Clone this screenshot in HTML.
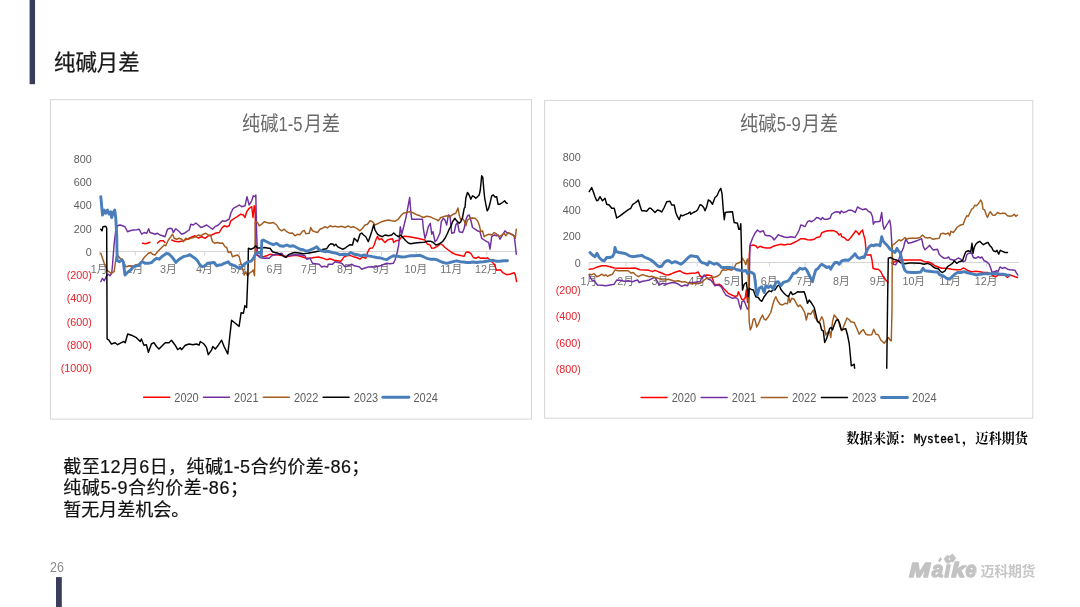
<!DOCTYPE html>
<html lang="zh-CN">
<head>
<meta charset="utf-8">
<title>纯碱月差</title>
<style>
html,body{margin:0;padding:0;background:#fff;}
body{width:1080px;height:607px;position:relative;overflow:hidden;font-family:"Liberation Sans",sans-serif;}
#slide{position:absolute;left:0;top:0;width:1080px;height:607px;overflow:hidden;background:#fff;filter:blur(0.5px);}
.abs{position:absolute;overflow:visible;}
.bar{position:absolute;background:#3a3d5a;}
.box{position:absolute;border:1px solid #dadada;box-sizing:border-box;background:#fff;}
svg text{font-family:"Liberation Sans","Noto Sans CJK SC",sans-serif;}
.pageno{position:absolute;left:50px;top:558.5px;font-size:14.2px;line-height:16px;color:#8c8c8c;transform:scaleX(0.88);transform-origin:0 0;}
</style>
</head>
<body>
<div id="slide">
<svg class="abs " style="left:0px;top:0px" width="1080" height="607" viewBox="0 0 1080 607"><rect x="29.6" y="-2" width="5.45" height="86.2" fill="#3a3d5a"/><rect x="56.0" y="577.1" width="5.8" height="32" fill="#3a3d5a"/></svg>
<header><svg class="abs " style="left:50px;top:45px" width="150" height="35" viewBox="50 45 150 35"><g fill="#1a1a1a" stroke="#1a1a1a" stroke-width="0.25"><text x="54" y="70.3" font-size="21.4" textLength="85.6" lengthAdjust="spacing">纯碱月差</text></g></svg></header>
<svg class="abs chartsvg" style="left:49px;top:98px" width="484" height="323" viewBox="49 98 484 323"><rect x="50.4" y="99.7" width="481.1" height="319.4" fill="#fff" stroke="#d6d6d6" stroke-width="1"/><g fill="#6a6a6a"><text x="242" y="131.2" font-size="20" textLength="36.4" lengthAdjust="spacingAndGlyphs">纯碱</text><text x="278.5" y="131.2" font-size="20" textLength="24.1" lengthAdjust="spacingAndGlyphs">1-5</text><text x="304" y="131.2" font-size="20" textLength="36" lengthAdjust="spacingAndGlyphs">月差</text></g><g font-size="11.7" text-anchor="end"><text transform="translate(91.8 162.6) scale(0.92 1)" fill="#606060">800</text><text transform="translate(91.8 185.9) scale(0.92 1)" fill="#606060">600</text><text transform="translate(91.8 209.2) scale(0.92 1)" fill="#606060">400</text><text transform="translate(91.8 232.5) scale(0.92 1)" fill="#606060">200</text><text transform="translate(91.8 255.8) scale(0.92 1)" fill="#606060">0</text><text transform="translate(91.8 279.1) scale(0.92 1)" fill="#e8222c">(200)</text><text transform="translate(91.8 302.4) scale(0.92 1)" fill="#e8222c">(400)</text><text transform="translate(91.8 325.7) scale(0.92 1)" fill="#e8222c">(600)</text><text transform="translate(91.8 349) scale(0.92 1)" fill="#e8222c">(800)</text><text transform="translate(91.8 372.3) scale(0.92 1)" fill="#e8222c">(1000)</text></g><g stroke="#d4d4d4" stroke-width="1"><line x1="99.5" y1="251.4" x2="518" y2="251.4"/><line x1="99.5" y1="251.4" x2="99.5" y2="255.4"/><line x1="135.3" y1="251.4" x2="135.3" y2="255.4"/><line x1="168.9" y1="251.4" x2="168.9" y2="255.4"/><line x1="204.7" y1="251.4" x2="204.7" y2="255.4"/><line x1="239.4" y1="251.4" x2="239.4" y2="255.4"/><line x1="275.2" y1="251.4" x2="275.2" y2="255.4"/><line x1="309.9" y1="251.4" x2="309.9" y2="255.4"/><line x1="345.7" y1="251.4" x2="345.7" y2="255.4"/><line x1="381.6" y1="251.4" x2="381.6" y2="255.4"/><line x1="416.2" y1="251.4" x2="416.2" y2="255.4"/><line x1="452.1" y1="251.4" x2="452.1" y2="255.4"/><line x1="486.8" y1="251.4" x2="486.8" y2="255.4"/></g><g fill="#727272" font-size="11.7"><text transform="translate(90.8 273) scale(0.92 1)">1月</text><text transform="translate(126.6 273) scale(0.92 1)">2月</text><text transform="translate(160.1 273) scale(0.92 1)">3月</text><text transform="translate(195.9 273) scale(0.92 1)">4月</text><text transform="translate(230.6 273) scale(0.92 1)">5月</text><text transform="translate(266.5 273) scale(0.92 1)">6月</text><text transform="translate(301.1 273) scale(0.92 1)">7月</text><text transform="translate(337 273) scale(0.92 1)">8月</text><text transform="translate(372.8 273) scale(0.92 1)">9月</text><text transform="translate(404.5 273) scale(0.92 1)">10月</text><text transform="translate(440.3 273) scale(0.92 1)">11月</text><text transform="translate(475 273) scale(0.92 1)">12月</text></g><g fill="none" stroke-linejoin="round" stroke-linecap="round"><polyline points="142.5,243.3 145.8,243.7 150,242.2" stroke="#ff0000" stroke-width="1.45" /><polyline points="157.5,243 160,240.8 163.3,240.8 165,242.5" stroke="#ff0000" stroke-width="1.45" /><polyline points="171.7,240 175,241.3 178.3,241.7 181.7,241.3 185,240 188.3,238.7 191.7,237 195,235.8 198.3,238 201.7,236.7 205,238.3 208.3,235.8 211.7,235 215,233.3 219.2,232.5 221.7,228.3 224.2,225.8 226.7,226.7 229.2,225.8 230.8,220.8 233.3,219.2 235.8,217.5 238.3,215.8 240.8,214.2 243.3,215 245,217.5 246.7,211.7 249.2,208.3 251.7,206.7 253,217.5 254.2,205.8 255,206.7 255.5,226.7 255.8,248.3 256.7,255 260,256.3 263.3,256.7 266.7,255.8 270,254.2 273.3,254.7 278.3,255 283.3,255.8 286.7,256.7 291.7,255.8 296.7,255.3 301.7,256.7 305.8,258 310,258.3 314.2,257.5 318.3,257 323.3,258.3 326.7,259.7 330,258.8 334.2,260.3 337.5,260.8 340.8,261.3 342.5,259.2 344.2,256.7 346.7,255.8 350,255.3 353.3,256.7 356.7,257.5 360,259.2 362.5,257 365.8,258.3 367.5,252.5 369.7,248.3 372.5,248 374.2,245 375.8,240 377.5,236.3 379.2,239.7 381.7,238.7 383.3,240.8 385,242.5 387.5,240 390,239.2 392.5,238.7 393.7,242.5 395.8,240.8 399.2,240.3 401.7,236.7 405,236.3 409.2,236.7 413.3,237.5 417.5,238.3 421.7,239.2 425,240 427.5,244.2 430,244.7 431.7,248.3 434.2,248 436.7,246.7 439.2,245 440,243.3 442.5,245 445,247.5 448.3,250 451.7,252.5 455,254.2 458.3,255 461.7,255.8 464.2,256.3 465.8,252.5 468.3,252 470.8,253.3 473.3,257.5 475.8,258.3 478.3,257 480.8,258.3 483.3,258 485.8,258.5 487.5,257.7 490.3,260.2 494.1,264 496.6,270.2 500.4,269.7 502.9,272.7 506.6,274.7 510.4,274 514.1,272.7 515.4,275.2 516.6,281.5" stroke="#ff0000" stroke-width="1.45" /><polyline points="100.8,281.7 102.5,278.3 104.2,280.8 106.7,275.8 108.3,274.2 110,275.8 111.7,273.3 112.5,265 114.2,243.3 115.8,230 117.5,225.8 120,225 122.5,225.8 125,226.7 127.5,231.7 130,230.8 133.3,230 136.7,229.7 139.2,229.2 141.7,234.2 144.2,232.5 146.7,233.3 148.7,228.7 150,232.5 152.5,233.3 155,234.2 157.5,233.3 160,235 162.5,235.8 165,236.7 167.5,229.2 170,228.3 172,228.7 173.3,232.5 175.8,228.7 178.3,230.8 181.7,234.2 184.2,233.3 186.7,231.7 189.2,230 190.8,224.2 193.3,225 195.8,223 198.3,225 200.8,227.5 203.3,226.7 206.7,225 210,227.5 212.5,229.2 215,226.7 218.3,225 220.8,222.5 222.5,220.8 225,221.3 227.5,220 229.2,219.2 230.8,213.3 233.3,208.3 236.7,206.7 239.2,205 241.7,206.7 245,205.8 247,196.7 248.3,201.7 249.2,205 251.7,200.8 253.3,195.8 255,196.7 255.8,195 256.3,218.3 256.7,235 257.5,255 260,257.5 263.3,258.3 266.7,258 269.2,258.3 271.7,255.8 273.3,255 277.5,254.2 281.7,253.3 284.2,256.7 286.7,256.3 291.7,255 296.7,254.7 301.7,255 305,255.8 306.7,259.2 310,258.3 312.5,263.3 315.8,263.7 319.2,264.2 321.7,267 324.2,266.3 327.5,267 328.3,264.2 332.5,264.2 335,261.7 338.3,262.5 341.7,263.3 345,266.7 348.3,265.8 351.7,264.2 354.2,265.8 356.7,266.3 359.2,266.7 361.7,269.2 365,268 368.3,267 371.7,266.7 375,267 378.3,266.3 380.8,265.8 384.2,264.2 386.7,263.3 390,263.7 393.3,263.3 395,260 397,253.3 398.7,245 400.3,226.7 401.7,234.2 403.3,228.3 405.8,218.3 408,206.7 409.7,197.5 410.8,211.7 411.7,219.2 415,219.2 422.5,219.2 423.3,228.3 425,238.3 426.7,233.3 428.3,226.7 430.3,223.3 431.7,234.2 433,231.7 435,241.7 436.7,240 438.3,236.7 440,233 441.3,221.7 443.3,218.3 445,220 446.7,225 448.3,215 450,215.8 451.7,233.3 454.2,232.5 455.8,225 457.5,222.5 459.2,231.7 462.5,232.5 464.2,228.3 465.8,220 467.5,215.8 469.2,215 470.8,220 472.5,227.5 475,229.2 477.5,230.8 480,231.7 481.7,238.3 484.2,240 486.7,241.7 488.7,242.5 490,249.2 491.7,236.7 494.2,235 496.7,235.8 498.3,235 500,239.2 502.5,235 505,230.8 506.7,232.5 509.2,233.3 511.7,234.2 514.2,235.8 515.3,245 516.3,254.2" stroke="#7030a0" stroke-width="1.45" /><polyline points="100.8,253.3 102.5,258.3 104.2,263.3 105.8,266.7 107.5,270.8 109.2,271.7 110.8,273.3 112.5,272.5 114.2,271.7 115,265 116.3,256.7 118.3,255.8 120,258.3 122.5,259.2 124.2,263.3 125.8,266.7 128.3,266.3 130.8,265.8 133.3,266.3 135.8,265 138.3,264.2 140.8,263.3 142.5,260 144.2,257.5 146.7,255 148.3,253.3 150.8,252.5 152.5,254.2 155,255 157.5,251.7 160,249.2 162.5,246.7 164.2,245 165.8,245.8 168.3,240 170.8,236.7 172.5,234.2 174.2,238.3 176.7,239.2 179.2,238.3 181.7,239.2 183.3,241.7 185.8,238.3 188.3,239.2 190.8,238.3 193.3,237.5 195.8,236.7 198.3,235 200.8,235.8 203.3,234.2 205.8,233.3 208.3,235 210.8,235.8 212.5,241.7 215,243.3 217.5,242.5 220,243.3 222.5,243 225,246.7 226.7,247.5 228.3,252.5 230.8,251.7 232.5,256.7 235,255.8 237.5,255 239.2,256.7 240.8,263.3 242.5,268.3 244.2,275 245.8,271.7 247.5,275.8 249.2,273.3 251.7,271.7 253.3,270 254.5,275.8 255,251.7 255.3,221.7 257.5,222.5 259.2,225.8 261.7,224.2 264.2,221.7 266.7,222.5 270,223.3 273.3,222.5 276.7,225 279.2,229.2 281.7,230.8 284.2,229.2 286.7,231.7 290,233.3 292.5,233 295,235.8 297.5,234.2 300,234.7 302.5,231.3 304.2,230.3 305.8,233.7 309.2,233.3 310.8,227.5 312.5,230.8 315,231.7 317.5,232.5 320,229.2 322.5,228.3 325,226.7 327.5,228 330,225.8 332.5,226.7 335,226.3 338.3,227 341.7,226.3 345,227.5 348.3,225.8 350.8,227.5 353.3,226.7 356.7,228.3 360,230.8 362.5,228.3 365,225 367.5,224.2 370,220.8 372.5,221.7 375,225 378.3,223.3 381.7,221.7 385,220.8 388.3,220 391.7,220.8 395,221.3 398.3,219.2 400.8,215.8 403.3,213.3 406.7,212.5 410,211.7 413.3,213 416.7,214.7 420,215.8 423.3,217.5 426.7,216.3 430,216.7 433.3,218.3 436.7,219.7 438.3,220.8 440.8,217.5 443.3,216.7 446.7,215.8 450,216.7 453.3,214.2 455.8,213.3 458,208 459.2,215 460.8,220 462.5,218.3 464.2,220.8 465.8,225.8 467.5,220 470,218.3 472.5,218 475,218.3 477.5,220.8 479.2,225 480.8,231.7 482.5,230.8 484.2,236.7 486.7,235 489.2,234.2 491.7,235 494.2,232.5 496.7,234.2 499.2,236.7 501.7,235 504.2,233.3 505.8,235.8 508.3,232.5 510.8,234.2 513.3,235 515.3,238.3 516.3,229.2" stroke="#a25c1f" stroke-width="1.45" /><polyline points="100.8,229.2 102,230.8 103,226.7 105.8,226.3 106.7,228.3 107.1,339 108.9,340.2 111.4,344 115.1,342.7 117.6,344.7 121.4,342.7 123.9,341.5 125.2,342.7 127.7,334 131.4,335.2 136.4,337.7 140.2,341.5 141.4,339 143.9,345.2 146.4,344.7 148.4,352.2 151.4,344 153.9,342.7 156.5,346.5 159,349 162.7,345.2 165.2,342.7 169,342.7 171.5,340.2 175.2,345.2 177.7,349.7 180.2,347.7 181.5,349.7 185.3,345.2 189,344 192.8,344.7 196.5,344 199,345.2 200.3,341.5 204,344 206.5,347.7 208.3,354.7 211.5,350.2 212.8,346.5 215.3,349 218.3,345.2 221.6,340.2 224.1,346.5 227.8,354 229.1,342.7 231.6,320.2 235.3,323.2 239.1,326.4 241.1,312.7 243.4,313.2 244.9,305.6 246.6,307.6 247.9,275 248.4,248.3 250.8,249.2 253.3,248.3 255.8,245.8 257.5,248 261.7,248 265,247.5 268.3,248.3 270,248.3 272.5,251.7 275,252.5 278.3,253.3 281.7,255 285.8,257.5 288.3,254.7 291.7,253.3 295,252.5 299.2,253 303.3,253.7 307.5,253.3 311.7,252.5 315.8,251.7 320,250.8 323.3,249.2 326.7,248.7 329.2,245 330.8,243.7 333.3,244.2 334.2,245.8 335.8,244.2 337.5,246.7 340,248 342.5,249.2 345,248.3 347.5,246.3 350,244.7 352.5,245 354.2,238.3 355.8,239.7 357.5,241.7 360,234.2 361.7,233 363.3,234.7 365.8,236.7 368.3,241.7 370,236.7 371.7,231.7 373.7,224.7 375,230 377.5,234.2 380,235.8 382.5,236.7 385,235 388.3,235.8 391.7,235 393.7,233 395.8,235 398.3,236.7 400.8,235 403.3,238 405.8,240.8 408.3,243 410.8,243.7 415,243 420,242.5 424.2,242.2 427.5,241.3 430.8,241.3 433.3,242.5 435.8,245 438.3,244.2 440,243.3 442.5,241.7 445,238.3 447.5,233.3 449.2,229.2 450.8,226.7 452.5,221.7 455,218.3 456.7,220.8 459.2,223.3 460.8,221.7 462.5,217.5 464.2,208.3 465,207.5 465.8,198.3 467.5,192.5 469.2,195 470.8,199.2 472.5,195.8 474.2,196.7 475.8,198.3 477.5,196.7 479.2,195 480.3,190 481.7,175.8 482.8,177.5 483.7,188.3 484.7,198.3 485.8,204.2 487.2,210.8 488.7,208.3 490,203.3 491.7,195.8 493.3,195 495,197 496.7,196.7 498,204.2 500,204.2 502.5,202.5 504.7,200.8 505.8,202.5 507.2,203.3" stroke="#000000" stroke-width="1.45" /><polyline points="100.8,196.7 102.5,215 104.2,210 105.8,213.3 107.5,210 109.2,214.2 110.8,211.7 111.7,217.5 113.3,212.5 114.7,210 115.8,218.3 116.7,235 117.2,260.8 119.2,261.7 121.7,260 123.3,261.7 125,275 126.7,273.3 128.3,271.7 130.8,270 133.3,266.7 136.7,265.8 139.2,265 140.8,262.5 142.5,261.7 145,263.3 148.3,263.3 151.7,262.5 154.2,260 156.7,258.3 159.2,259.2 161.7,256.7 164.2,255 166.7,253.3 169.2,254.2 171.7,256.7 174.2,260 175.8,262.5 178.3,260 180.8,258.3 183.3,256.7 186.7,255.8 190,254.7 192.5,256.7 195,258.3 197.5,260.8 200,265 202.5,266.7 205,265.8 207.5,263.3 210,263 214.2,262.5 216.7,265.8 219.2,265 221.7,264.7 224.2,263.3 226.7,262.5 228.3,261.7 230,264.2 232.5,265 235,265.8 237.5,267.5 240,268.3 241.7,266.7 244.2,264.2 246.7,262.5 249.2,261.7 251.7,260.8 254.2,256.7 255.8,253.3 258.3,252.5 260.8,252.5 261.3,257 261.8,240.8 263.3,240 266.7,241.7 270,243.3 273.3,244.7 276.7,243.3 280,245.8 283.3,246.3 286.7,245 290,246.3 293.3,245.8 296.7,247.5 300,249.2 303.3,249.7 306.7,251.3 310,250 313.3,248.7 316.7,246.7 319.2,249.7 321.7,250.8 325,251.7 328.3,251.3 332.5,252.5 336.7,253.3 340,254.7 344.2,254.2 347.5,254.7 350.8,252.5 354.2,254.2 357.5,254.7 360.8,255.8 364.2,255 368.3,255.8 372.5,256.7 376.7,257.5 380.8,258 384.2,259.2 386.7,259.7 390,257.5 393.3,255.8 397.5,256.3 401.7,257 405.8,256.7 410,255.8 415,255.8 420,255.3 423.3,256.7 426.7,258.3 430,259.2 434.2,259.2 437.5,260 440.8,261.7 443.3,262.5 446.7,263.3 450,262.5 453.3,261.7 456.7,260.8 460,261.7 463.3,262 466.7,262.5 470,262.5 473.3,262 476.7,262.5 480,262 483.3,261.7 486.7,261.3 490,260.8 493.3,260.3 496.7,261.3 500,261.3 503.3,260.8 507.5,260.8" stroke="#4a7ebb" stroke-width="2.9" /></g><g fill="#606060" font-size="12"><line x1="143.7" y1="397.3" x2="169.7" y2="397.3" stroke="#ff0000" stroke-width="1.45" stroke-linecap="round"/><text transform="translate(174.3 401.7) scale(0.915 1)">2020</text><line x1="203.5" y1="397.3" x2="229.5" y2="397.3" stroke="#7030a0" stroke-width="1.45" stroke-linecap="round"/><text transform="translate(234.1 401.7) scale(0.915 1)">2021</text><line x1="263.3" y1="397.3" x2="289.3" y2="397.3" stroke="#a25c1f" stroke-width="1.45" stroke-linecap="round"/><text transform="translate(293.9 401.7) scale(0.915 1)">2022</text><line x1="323.1" y1="397.3" x2="349.1" y2="397.3" stroke="#000000" stroke-width="1.45" stroke-linecap="round"/><text transform="translate(353.7 401.7) scale(0.915 1)">2023</text><line x1="382.9" y1="397.3" x2="408.9" y2="397.3" stroke="#4a7ebb" stroke-width="2.9" stroke-linecap="round"/><text transform="translate(413.5 401.7) scale(0.915 1)">2024</text></g></svg>
<svg class="abs chartsvg" style="left:543px;top:98px" width="492" height="323" viewBox="543 98 492 323"><rect x="544.6" y="100.4" width="488.2" height="317.8" fill="#fff" stroke="#d6d6d6" stroke-width="1"/><g fill="#6a6a6a"><text x="740.1" y="131.2" font-size="20" textLength="36.4" lengthAdjust="spacingAndGlyphs">纯碱</text><text x="776.7" y="131.2" font-size="20" textLength="24.1" lengthAdjust="spacingAndGlyphs">5-9</text><text x="802.1" y="131.2" font-size="20" textLength="36" lengthAdjust="spacingAndGlyphs">月差</text></g><g font-size="11.7" text-anchor="end"><text transform="translate(580.8 160.6) scale(0.92 1)" fill="#606060">800</text><text transform="translate(580.8 187.2) scale(0.92 1)" fill="#606060">600</text><text transform="translate(580.8 213.8) scale(0.92 1)" fill="#606060">400</text><text transform="translate(580.8 240.4) scale(0.92 1)" fill="#606060">200</text><text transform="translate(580.8 267) scale(0.92 1)" fill="#606060">0</text><text transform="translate(580.8 293.6) scale(0.92 1)" fill="#e8222c">(200)</text><text transform="translate(580.8 320.2) scale(0.92 1)" fill="#e8222c">(400)</text><text transform="translate(580.8 346.8) scale(0.92 1)" fill="#e8222c">(600)</text><text transform="translate(580.8 373.4) scale(0.92 1)" fill="#e8222c">(800)</text></g><g stroke="#d4d4d4" stroke-width="1"><line x1="589.2" y1="262.5" x2="1019" y2="262.5"/><line x1="589.2" y1="262.5" x2="589.2" y2="266.5"/><line x1="626" y1="262.5" x2="626" y2="266.5"/><line x1="660.4" y1="262.5" x2="660.4" y2="266.5"/><line x1="697.1" y1="262.5" x2="697.1" y2="266.5"/><line x1="732.7" y1="262.5" x2="732.7" y2="266.5"/><line x1="769.5" y1="262.5" x2="769.5" y2="266.5"/><line x1="805.1" y1="262.5" x2="805.1" y2="266.5"/><line x1="841.8" y1="262.5" x2="841.8" y2="266.5"/><line x1="878.6" y1="262.5" x2="878.6" y2="266.5"/><line x1="914.2" y1="262.5" x2="914.2" y2="266.5"/><line x1="950.9" y1="262.5" x2="950.9" y2="266.5"/><line x1="986.5" y1="262.5" x2="986.5" y2="266.5"/></g><g fill="#727272" font-size="11.7"><text transform="translate(580.5 285) scale(0.92 1)">1月</text><text transform="translate(617.2 285) scale(0.92 1)">2月</text><text transform="translate(651.6 285) scale(0.92 1)">3月</text><text transform="translate(688.4 285) scale(0.92 1)">4月</text><text transform="translate(724 285) scale(0.92 1)">5月</text><text transform="translate(760.7 285) scale(0.92 1)">6月</text><text transform="translate(796.3 285) scale(0.92 1)">7月</text><text transform="translate(833.1 285) scale(0.92 1)">8月</text><text transform="translate(869.8 285) scale(0.92 1)">9月</text><text transform="translate(902.4 285) scale(0.92 1)">10月</text><text transform="translate(939.2 285) scale(0.92 1)">11月</text><text transform="translate(974.8 285) scale(0.92 1)">12月</text></g><clipPath id="c2clip"><rect x="585" y="140" width="445" height="228.8"/></clipPath><g fill="none" stroke-linejoin="round" stroke-linecap="round" clip-path="url(#c2clip)"><polyline points="589.2,269.2 593.3,268.7 597.5,267 601.7,265.8 605.8,265.8 610,266.7 614.2,268 618.3,268.3 625,268.3 630,268.3 635,268 640,269.7 645,270 649.2,270.3 652.5,271.7 655,270.3 658.3,271.7 661.7,273 665,274.7 668.3,275 671.7,273.7 675.8,272 680,270.8 683.3,273 686.7,273.7 691.7,273.3 695.8,273 698.3,272 700,275.8 701.7,277.5 704.2,275.8 706.7,275 709.2,275.3 711.7,275.8 713,280 714.2,284.2 716.7,284.7 719.2,284.2 721.7,285.8 723.3,288.3 725.8,290.8 728.3,293.3 731.7,295 735,296.3 737.5,295.8 738.3,291.7 740,295 741.7,299.2 743.3,300 745.3,297.5 746.3,290 747.5,302.5 748.7,288.3 749.3,255 750,245.8 753.3,245 755.8,245.8 757.5,248 760,246.3 763.3,247.5 766.7,248 770,248 773.3,246.3 776.7,245.3 780.8,244.2 784.2,245 787.5,244.2 790.8,244.2 794.2,242.5 797.5,240.8 800.8,238.7 804.2,238.7 807.5,239.7 810.8,240 814.2,239.2 816.7,237.5 820,236.7 821.7,233 824.2,231.7 827.5,230.8 830.8,230.5 834.2,230.8 836.7,232 839.2,235 840.8,233.7 841.7,236.7 844.2,237.5 846.7,240 848.3,240.3 850.8,237.5 853.3,234.2 855.8,230.8 857.5,232.5 859.2,234.7 860.8,231.7 862.5,230 863.7,235 865,239.2 865.8,248.3 866.7,255 869.2,255 870.8,254.7 872,260 873,268.3 875.8,269.2 878.3,269.2 880.8,271.7 883.3,276.7 885.8,280 888,282.5" stroke="#ff0000" stroke-width="1.45" /><polyline points="891.7,263.3 895,261.7 898.3,260.8 901.7,260 905,260 910,260 916.7,260 920.8,260 924.2,261.7 928.3,262 931.7,263.3 935,265.8 938.3,267 941.7,268.3 946.7,268.3 951.7,269.2 956.7,269.7 960.8,269.7 963.3,268 965,268.7 968.3,270.8 971.7,271.7 975.8,271.3 980,271.7 983.3,272.5 987.5,272.5 990.8,274.2 993.3,275.8 995.8,276.7 998.3,275 1001.7,274.7 1005,275.3 1007.5,277.5 1010,275 1012.5,275.8 1015,276.7 1017.5,277.5" stroke="#ff0000" stroke-width="1.45" /><polyline points="589.2,275 591.7,280 594.2,280.8 597.5,285 601.7,285.3 605.8,285.8 610,285 614.2,284.2 616.7,280 620,280.3 624.2,281.3 628.3,280.8 632.5,281.7 635,280.8 637.5,280 639.2,282.5 642.5,281.3 645.8,280.8 649.2,280 652.5,278.3 655,277.5 657.5,281.7 659.2,285 662.5,283.3 665.8,284.2 669.2,283.3 672.5,282.5 675.8,283 678.3,284.2 681.7,286.3 685,285 687.5,285.8 689.2,282.5 693.3,282.5 697.5,282 700,281.7 701.7,278.3 704.2,275 705.8,276.7 708.3,279.2 710.8,280 713.3,283.3 715,285.8 717.5,285 720,285.8 721.7,287.5 723.3,290.8 725.8,295 729.2,296.7 732.5,298.3 735.8,297.5 738,299.2 739.2,304.2 740.8,309.2 742,301.7 744.2,300.8 745.8,305 747.5,309.2 748.7,307.5 749.3,288.3 749.7,258.3 750,245 752.5,238.3 755,233.3 757.5,230 760,232 763.3,230.8 765,235 767.5,235.8 770,235.8 772.5,237.5 774.2,240 776.7,236.7 778.3,234.7 780.8,235.8 784.2,237 787.5,237.5 790.8,236.7 795,237.5 797.5,233.3 799.2,230 800.8,225 803.3,225.8 805,226.7 807.5,221.7 809.2,220.8 811.7,221.7 814.2,220 816.7,217.5 819.2,218.3 820.8,219.7 822.5,217.5 824.2,219.2 827.5,219.2 830,218.3 831.7,214.2 834.2,212.5 836.7,211.7 839.2,212 840,213.7 841.3,210.8 843.3,212.5 845.8,212 848.3,210.3 851.7,210.3 854.2,211.7 855.3,212.5 857.5,207 860,208.3 862.5,209.7 865.8,208.7 868.3,211.3 870.8,212.5 872.5,216.7 873.3,224.2 875,221.7 877.5,221.7 880,221.3 881.7,212.5 883,225 884.2,229.2 886.7,225 889.7,220 890.8,226.7 891.7,241.7 892.5,258.3 893.3,264.2 895.8,264.7 897.5,261.7 899.2,258.3 901.7,251.7 903.3,248.3 904.6,243 905.8,239.2 908.3,243.3 911.7,242.5 916.7,240.8 921.7,238.7 923.3,246.7 925,249.7 927.5,247.5 929.7,245.3 931.7,248.3 933.3,250 937.5,249.2 939.2,254.2 941.7,256.7 944.2,258.3 946.7,258 948.7,257 950,259.2 953.3,260 955.8,259.7 958.3,258 960.8,259.2 963.3,261.7 965.3,260.8 966.7,255 968.3,253.3 971.7,253 973.3,257.5 975.8,258.3 978.3,256.7 980,258 982,257 984.2,260.8 986.7,261.7 989.2,264.2 990.8,268.3 992,272.5 994.2,271.7 996.7,270.8 998.3,271.3 1000,267 1002.5,268.3 1005,267.5 1007.5,269.2 1010,269.7 1012.5,270 1015,270.3 1016.7,273.3 1017.8,275" stroke="#7030a0" stroke-width="1.45" /><polyline points="589.2,274.2 591.7,274.7 594.2,273.7 596.7,276.7 599.2,275.8 601.7,274.2 604.2,275.8 605.8,274.7 607.5,276.3 610,275 612.5,274.2 615,270 618.3,270.8 623.3,270.8 628.3,270.8 630.8,273 633.3,272.5 635.8,275 638.3,276.7 640.8,275.3 643.3,274.7 645.8,275.8 649.2,276.7 651.7,276.3 655,277.5 658.3,278.3 661.7,279.7 665,280 668.3,279.2 671.7,280.3 675,281.3 678.3,280.8 681.7,282 685,281.7 688.3,283.3 691.7,283.7 695,283.3 698.3,283.7 701.7,282.5 704.2,280 706.7,278.3 709.2,278 711.7,277.5 715,277 717.5,276.3 720,274.2 721.7,270.8 723.3,269.7 725.8,270.3 728.3,269.2 731.7,270.3 734.2,268.3 735.8,264.2 738.3,263 740.8,262 742.5,258.3 744.2,260.8 745.8,264.7 747,260 748,258.7 748.7,305 749.2,321.7 750.3,330 751.7,326.7 753.3,319.2 754.7,318.7 756.7,327 758.3,324.2 760.3,319.2 762.5,315 764.2,319.2 765.8,320 768.3,316.7 770.8,312.5 772.5,305.8 774.2,300 775.8,296.7 777.5,300.8 780,304.2 782.5,305 785,303.3 787.5,303.7 788.7,296.3 790,302.5 791.7,298.3 794.2,299.2 796.7,304.2 798.3,306.7 800,305 802.5,308.3 804.7,312.5 806.3,320 808,313.3 810.8,314.2 813.3,310 815,317.5 817.5,320.8 819.2,322.5 821.7,316.7 823.3,320 824.7,329.2 825.8,335 827.5,332.5 829.7,331.7 830.8,337.5 832.5,321.7 834.2,315 836.3,317.5 838.3,320 840,326.7 842,330.8 844.2,325 847,318 849.2,319.7 850.8,321.7 854.2,322.5 856.7,328.3 859.2,334.2 861.7,330.8 863.3,329.7 865.8,334.2 868.3,335 871.7,334.7 873.7,329.2 875.8,334.2 878.3,334.7 880.8,340 884.2,343.3 886.7,340 888.3,337.5 890,340 891.3,340.8 892,308.3 892.3,245 894.2,244.2 896.7,241.7 899.2,239.7 900.8,240.8 902.5,239.7 905,237.5 906.7,239.2 909.2,238.3 913.3,238.3 916.7,238.3 920,237.5 922.5,235 925,237.5 927.5,238 930,237.5 932.5,239.2 935.8,238.7 939.2,238.3 940.8,233.7 943.3,233.3 945.8,234.2 948.3,233 949.7,235.8 950.8,231.3 953.3,232.5 955.8,229.2 957.5,227 960,225.3 963.3,224.2 965,219.2 966.7,215.8 968.3,216.3 970,212.5 971.7,209.2 973.3,208 974.7,205.3 976.3,205.8 978,204.2 979.7,201.7 980.8,200 982,202.5 983,209.2 984.7,210 986.3,215 987.5,217.5 989.2,213.3 990.3,211.7 992.5,215 995,215.3 997.5,212.5 1000,213.7 1002.5,213.3 1005,213.3 1007.5,215.8 1010,216.3 1012.5,215.8 1014.2,214.2 1015.8,216.3 1017.5,215" stroke="#a25c1f" stroke-width="1.45" /><polyline points="589.2,191.7 591.7,187.5 593.3,191.7 595,196.7 596.7,200.8 598.3,200 600,196.7 602.5,200.8 605,198.3 606.7,204.2 609.2,205 611.7,208.3 614.2,208.3 616.7,218 620,215.8 623.3,213.3 626.7,210.8 629.2,209.2 630.8,208.3 632.5,204.7 635,203 636.7,201.7 638.3,200 640,205.8 641.7,210.8 644.2,210.8 646.7,211.3 649.2,208.3 650.8,208.3 653.3,210.8 655,212.5 657.5,210 660,210.8 661.7,212 664.2,207.5 666.7,201.7 670,201.3 671.7,205 674.2,205 675.8,212.5 677.5,216.7 679.2,219.7 680.8,215 682.5,215.8 685,214.7 688.3,213.3 690,212 690.8,214.2 693.3,212.5 695.8,211.3 697.5,210 700,204.7 701.7,205.3 703.7,207.5 705,210.8 706.7,206.7 708.3,200 710,200.8 712.5,204.2 715,197.5 717,195.8 719.2,190.8 720.8,188.3 722,193.3 723.3,210 724.3,219.7 725.3,212.5 728.3,212 732.5,211.7 733.3,217.5 734.2,222.5 737.5,223.3 738.7,229.2 740,229.2 740.8,223.7 741.3,241.7 742,276 742.5,290 744.2,284.2 746.3,282.5 747.5,290.8 748.3,296.7 749.2,288.3 750.8,289.2 753.3,290 755.8,296.7 758.3,297.5 760,300 761.7,301.3 764.2,296.7 766.7,293.3 769.2,290.8 771.3,291.7 773.3,289.2 775,290 777.5,285.8 779.2,285 780.8,289.2 783.3,292.5 785.8,295 788.3,296.7 790.8,291.7 792.5,294.7 795,293.7 797.5,291.7 800.8,292 804.2,291.7 805.8,296.7 807.5,303.3 809.2,300 811.7,303.3 814.2,307.5 815.8,314.2 817.5,321.7 820,323.3 821.7,330 823.3,330.8 824.7,342.5 826.3,339.2 828,334.2 829.7,328.3 831.3,327.5 832.5,330 834.2,325 836.3,320.3 838,319.7 839.7,323.3 841.3,330 843.3,329.2 845.8,328.7 847.5,335 849.2,343.3 850.3,355 851.3,365.8 853,365 854.2,364.2 855,372 886.7,372 887.6,300 888.3,258.3 890.8,257.5 893.3,259.2 896.7,260 899.2,261.7 901.7,263.3 905,263.7 909.2,263 913.3,263 918.3,263.3 920,263.3 924.2,264.2 927.5,263.3 930.8,264.7 933.3,267 935.8,268.3 938.3,268.7 940.8,271.7 942.5,272.5 945,270.8 947.5,266.7 950,265 952.5,263.3 954.2,260.8 956.7,263.3 959.2,261.7 962.5,260.8 964.2,255.8 965.8,251.7 968.3,250.8 970.8,251.7 972,243.3 973,253.3 974.2,247.5 975.8,244.2 977.5,242.5 979.7,241.3 981.7,243.3 983.3,244.7 985.8,243.3 988,242.5 990,245.8 991.7,247.5 993.3,250.8 995.8,251.7 997,250.3 998.7,254.2 1000.3,250.3 1002.5,251.3 1005,252.5 1007.5,252.5" stroke="#000000" stroke-width="1.45" /><polyline points="590,252.5 592.5,255 595,256.7 597,253.3 599.2,257.5 601.7,260 604.2,260.8 606.7,257.5 610,257.5 612.5,256.7 614.2,253.3 615,247.5 616.3,251.7 619.2,252.5 622.5,253 625.8,253.7 629.2,255.8 632.5,256.7 635.8,256.3 639.2,255.8 641.7,255.3 644.2,257 647.5,258.3 650.8,260 654.2,262.5 656.7,265 659.2,266.7 661.7,266.3 664.2,262.5 666.7,260.8 669.2,260.8 671.7,263 675,261.7 677.5,262.5 680.8,264.2 683.3,262.5 685.8,260 688.3,257.5 690.8,255.8 694.2,256.3 697.5,256.7 700,260.8 701.7,262.5 705,263.3 707.5,265 709.2,261.7 711.7,263 714.2,264.2 716.7,263.3 719.2,265 721.7,267.5 725,267.5 729.2,267.5 733.3,268 736.7,269.7 740,270.3 743.3,271 745.8,270.5 747.5,273.5 749.2,271.5 751.7,272.5 754.2,274.2 755.3,281.7 756.3,292.5 757.3,295 759.2,288.3 761.7,286.7 764.2,292.5 765.8,285.8 768.3,287.5 770.8,285.8 773.3,289.2 775.8,282.5 778.3,281.7 780.8,285.8 783.3,282.5 785.8,281.7 788.3,280.8 790.8,277.5 793.3,273.3 795.8,273 798.3,270 800,268.3 802.5,269.2 805,268.3 806.7,270 809.2,275 810.8,278.3 812.5,281.7 814.2,275 815.8,270 818.3,268.3 820,265.8 821.7,264.2 824.2,265.8 826.7,267.5 829.2,266.7 830.8,269.2 832.5,265.8 835,262.5 837.5,262.5 839.2,264.2 841.7,260.8 845,260 848.3,260.3 850.8,258.3 853.3,255.8 855,253.7 857.5,257.5 860,258.3 862.5,257 864.2,257.5 865.8,253.3 867.5,249.2 869.2,246.7 871.7,245 873.3,245.8 875.8,244.7 878.3,245 880,245.8 881.7,236.7 883,240.8 885,243.3 887.5,245.8 890,249.2 892.5,250.8 895,252.5 897,248.3 898.3,250.8 900,252.5 901.5,258 903,265 904.7,270 906.7,272 911.7,272.5 916.7,272.5 920.8,272 923,268.3 925,270.8 929.2,271.3 933.3,271.7 937.5,272 940,275 943.3,275.8 946.7,278.3 949.7,279.2 952,276.7 954.7,274.2 957.5,272.5 960.8,272.5 964.2,271.7 966.7,272.5 970,273.3 973.3,274.2 976.7,275 980,274.2 984.2,273.7 988.3,273.7 992.5,273.7 996.7,273.3 1000,274.2 1003.3,274.2 1006.7,275 1009.2,275.3" stroke="#4a7ebb" stroke-width="2.9" /></g><g fill="#606060" font-size="12"><line x1="641.1" y1="397.5" x2="667.1" y2="397.5" stroke="#ff0000" stroke-width="1.45" stroke-linecap="round"/><text transform="translate(671.7 401.9) scale(0.915 1)">2020</text><line x1="701.2" y1="397.5" x2="727.2" y2="397.5" stroke="#7030a0" stroke-width="1.45" stroke-linecap="round"/><text transform="translate(731.8 401.9) scale(0.915 1)">2021</text><line x1="761.3" y1="397.5" x2="787.3" y2="397.5" stroke="#a25c1f" stroke-width="1.45" stroke-linecap="round"/><text transform="translate(791.9 401.9) scale(0.915 1)">2022</text><line x1="821.4" y1="397.5" x2="847.4" y2="397.5" stroke="#000000" stroke-width="1.45" stroke-linecap="round"/><text transform="translate(852 401.9) scale(0.915 1)">2023</text><line x1="881.5" y1="397.5" x2="907.5" y2="397.5" stroke="#4a7ebb" stroke-width="2.9" stroke-linecap="round"/><text transform="translate(912.1 401.9) scale(0.915 1)">2024</text></g></svg>
<aside><svg class="abs " style="left:840px;top:428px" width="194" height="22" viewBox="840 428 194 22"><g fill="#000"><text x="846.3" y="443" font-size="13.2" font-weight="bold" style="font-family:'Liberation Serif','Noto Serif CJK SC',serif" textLength="66" lengthAdjust="spacing">数据来源：</text></g><text x="913.7" y="443.0" style="font-family:Liberation Mono,monospace" stroke="#000" stroke-width="0.45" font-size="12.8" textLength="46.5" lengthAdjust="spacingAndGlyphs" fill="#000">Mysteel</text><g fill="#000"><text x="962" y="443" font-size="13.2" font-weight="bold" style="font-family:'Liberation Serif','Noto Serif CJK SC',serif" textLength="66" lengthAdjust="spacing">，迈科期货</text></g></svg></aside>
<article><svg class="abs " style="left:55px;top:452px" width="365" height="73" viewBox="55 452 365 73"><g fill="#111" stroke="#111" stroke-width="0.2"><text x="63.3" y="473" font-size="18" textLength="306" lengthAdjust="spacing">截至12月6日，纯碱1-5合约价差-86；</text></g><g fill="#111" stroke="#111" stroke-width="0.2"><text x="63.3" y="494.3" font-size="18" textLength="184.7" lengthAdjust="spacing">纯碱5-9合约价差-86；</text></g><g fill="#111" stroke="#111" stroke-width="0.2"><text x="63.3" y="515.6" font-size="18" textLength="126" lengthAdjust="spacing">暂无月差机会。</text></g></svg></article>
<div class="pageno">26</div>

<footer><svg class="abs " style="left:900px;top:550px" width="145" height="35" viewBox="900 550 145 35"><g style="font-weight:bold;font-style:italic" fill="#c3c3c3" stroke="#c3c3c3" stroke-width="1.4" stroke-linejoin="round"><text x="909.2" y="577" font-size="19.6" textLength="20.8" lengthAdjust="spacingAndGlyphs">M</text><text x="931.8" y="577" font-size="22.2" textLength="11.6" lengthAdjust="spacingAndGlyphs">a</text><text x="944.6" y="577" font-size="22.2" textLength="6" lengthAdjust="spacingAndGlyphs">ı</text><text x="951.4" y="577" font-size="19.6" textLength="13.6" lengthAdjust="spacingAndGlyphs">k</text><text x="965.6" y="577" font-size="22.2" textLength="11" lengthAdjust="spacingAndGlyphs">e</text></g><g fill="#c6c6c6"><text x="980.5" y="576.3" font-size="13.9" font-weight="bold" textLength="55" lengthAdjust="spacing">迈科期货</text></g><g fill="#c3c3c3"><path d="M938 560.2l2.6-3.2 1.4 2.2-2.6 3.2z"/><path fill-rule="evenodd" d="M943.6 559l3.6-4.2 2 1.2 3.4-2.6 3.6 4.8-3.2 4.2-1.8-0.6-3 2.2-2.4-1.4zM948.6 558.9l1.1-1 0.8 1-1.1 1z"/></g></svg></footer>
</div>
</body>
</html>
